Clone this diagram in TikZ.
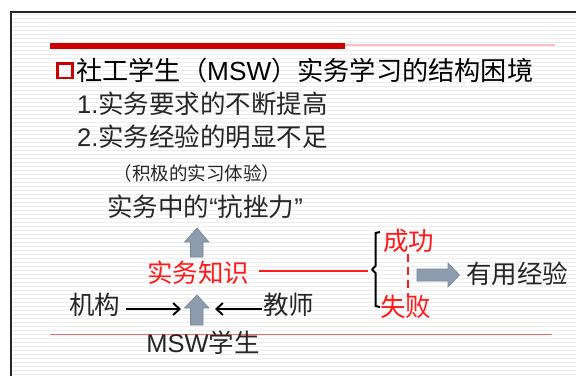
\documentclass[tikz,border=0pt]{standalone}
\usepackage{fontspec}
\setmainfont{Noto Sans CJK SC}
\newfontfamily\lat{Liberation Sans}
\usetikzlibrary{arrows.meta}
\definecolor{barred}{HTML}{CC0000}
\definecolor{txtred}{HTML}{FF1A1A}
\definecolor{blockfill}{HTML}{8E9DAD}
\definecolor{blockline}{HTML}{76879A}
\definecolor{txtgray}{HTML}{262626}
\tikzset{
  big/.style={font=\fontsize{25.5pt}{30pt}\selectfont, text=txtgray, inner sep=0pt},
  small/.style={font=\fontsize{18.5pt}{22pt}\selectfont, text=txtgray, inner sep=0pt},
  redtxt/.style={big, text=txtred},
  block/.style={fill=blockfill, draw=blockline, line width=0.6pt},
  blackarrow/.style={line width=1.8pt, -{Straight Barb[length=6.5pt,width=12pt,line width=1.9pt]}},
}
\begin{document}
\begin{tikzpicture}[x=1pt,y=-1pt]
\useasboundingbox (0,0) rectangle (576,376);
\fill[white] (0,0) rectangle (576,376);
% faint stripes
\foreach \yy in {14,18,...,376} {
  \draw[black!7, line width=0.9pt] (12,\yy) -- (576,\yy);
}
% frame
\draw[black!85, line width=2pt] (11,376) -- (11,12) -- (576,12);
% top bar
\fill[barred] (50,43) rectangle (345,49);
\draw[red!25, line width=1.5pt] (345,45) -- (555,45);
% bottom thin line
\draw[red!60, line width=0.6pt] (50,334) -- (552,334);
% title
\draw[barred, line width=2.6pt] (57.5,63.5) rectangle (72.5,78);
\node[big, font=\fontsize{26.2pt}{30pt}\selectfont, anchor=west, text=black] (title) at (76,71) {社工学生（{\lat MSW}）实务学习的结构困境};
\node[big, anchor=west] (l1) at (77,104) {{\lat 1.}实务要求的不断提高};
\node[big, anchor=west] (l2) at (77,137) {{\lat 2.}实务经验的明显不足};
\node[small] (pos) at (197,173) {（积极的实习体验）};
\node[big] (resil) at (205,207) {实务中的{\lat “}抗挫力{\lat ”}};
\node[redtxt] (know) at (198,273) {实务知识};
\node[big] (msw) at (203,343) {{\lat MSW}学生};
\node[big, anchor=west] (inst) at (69,305) {机构};
\node[big, anchor=west] (teach) at (263,305) {教师};
\node[redtxt, anchor=west] (succ) at (383,241) {成功};
\node[redtxt, anchor=west] (fail) at (380,307) {失败};
\node[big, anchor=west] (useful) at (466,274) {有用经验};
% up arrows
\path[block] (197,228) -- (209,242) -- (203,242) -- (203,257) -- (190.5,257) -- (190.5,242) -- (184.5,242) -- cycle;
\path[block] (197,295) -- (209,308) -- (203,308) -- (203,325) -- (190.5,325) -- (190.5,308) -- (184.5,308) -- cycle;
\coordinate (upL) at (181,309);
\coordinate (upR) at (215,309);
% black arrows
\draw[blackarrow] (inst.east) ++(6,4) coordinate (ia) -- (upL);
\draw[blackarrow] (teach.west) ++(-1,4) coordinate (ta) -- (upR);
% red line & bracket
\draw[txtred, line width=1.6pt] (know.east) ++(10,-2) -- (368,271);
\draw[black, line width=2pt, line join=round] (380,232) -- (375.5,233) -- (375.5,266) -- (372,269.5) -- (375.5,273) -- (375.5,306) -- (380,307);
\draw[txtred, line width=1.8pt, dash pattern=on 8pt off 5pt] (408,254) -- (408,297);
% right block arrow
\path[block] (417,269) -- (448,269) -- (448,263) -- (459.5,275) -- (448,287) -- (448,281) -- (417,281) -- cycle;
\end{tikzpicture}
\end{document}
